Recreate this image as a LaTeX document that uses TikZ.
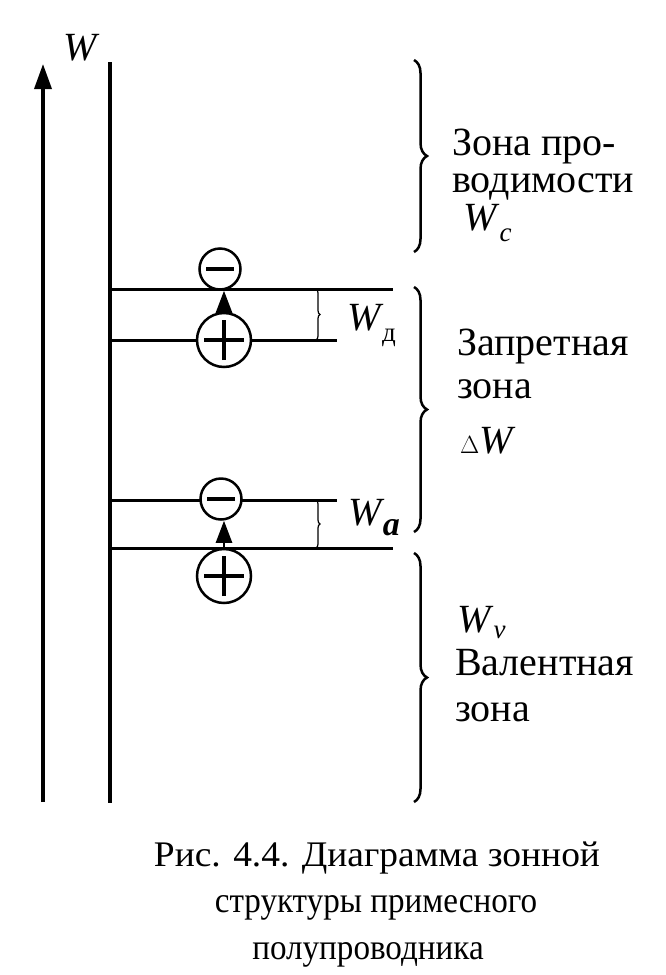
\documentclass[tikz,border=0pt]{standalone}
\usepackage{fontspec}
\setmainfont{Liberation Serif}
\usetikzlibrary{decorations.pathreplacing,arrows.meta}
\newcommand{\subsc}[2][0.28em]{\raisebox{-#1}{\fontsize{27}{27}\selectfont\textit{#2}}}
\begin{document}
\begin{tikzpicture}[x=1pt,y=-1pt,
  lvl/.style={line width=3pt},
  bigbrace/.style={decorate,decoration={brace,amplitude=13pt},line width=2.5pt},
  smallbrace/.style={decorate,decoration={brace,amplitude=4pt},line width=1.2pt},
  lbl/.style={anchor=base west,inner sep=0pt,font=\fontsize{40}{40}\selectfont},
  captext/.style={anchor=base,inner sep=0pt,font=\fontsize{36}{36}\selectfont},
  minuscirc/.style={circle,draw,line width=2.5pt,minimum size=41pt,inner sep=0pt,
    path picture={\draw[line width=4pt] ([xshift=-14pt]path picture bounding box.center) -- ([xshift=14pt]path picture bounding box.center);}},
  pluscirc/.style={circle,draw,line width=2.5pt,minimum size=54pt,inner sep=0pt,
    path picture={\draw[line width=4pt] ([xshift=-20pt]path picture bounding box.center) -- ([xshift=20pt]path picture bounding box.center);
                  \draw[line width=4pt] ([yshift=-20pt]path picture bounding box.center) -- ([yshift=20pt]path picture bounding box.center);}},
  jump/.style={line width=2.5pt,-{Triangle[length=22pt,width=16pt]}}
]
\useasboundingbox (0,0) rectangle (665,975);
% energy axis
\coordinate (axb) at (43,802);
\coordinate (axt) at (43,64);
\draw[line width=3.5pt,-{Triangle[length=25pt,width=17pt]}] (axb) -- (axt);
\node[lbl] (wlab) at (63,60) {\textit{W}};
% vertical line
\coordinate (vt) at (110,62);
\coordinate (vb) at (110,803);
\draw[line width=3.5pt] (vt) -- (vb);
% levels
\coordinate (l1a) at (110,289); \coordinate (l1b) at (393,289);
\coordinate (l2a) at (110,340); \coordinate (l2b) at (337,340);
\coordinate (l3a) at (110,500); \coordinate (l3b) at (337,500);
\coordinate (l4a) at (110,548); \coordinate (l4b) at (393,548);
\draw[lvl] (l1a) -- (l1b);
\draw[lvl] (l2a) -- (l2b);
\draw[lvl] (l3a) -- (l3b);
\draw[lvl] (l4a) -- (l4b);
% charges
\node[minuscirc,fill=white] (m1) at (220,269) {};
\node[pluscirc,fill=white] (p1) at (224,340) {};
\node[minuscirc,fill=white] (m2) at (221,499) {};
\node[pluscirc,fill=white] (p2) at (224,576) {};
\draw[jump] (p1.north) -- (p1.north |- m1.south);
\draw[jump] (p2.north) -- (p2.north |- m2.south);
% small braces
\coordinate (sb1t) at (316,289); \coordinate (sb1b) at (316,340);
\coordinate (sb2t) at (316,500); \coordinate (sb2b) at (316,548);
\draw[smallbrace] (sb1t) -- (sb1b);
\draw[smallbrace] (sb2t) -- (sb2b);
\node[lbl] (wd) at (347,330) {\textit{W}\subsc{\kern-0.05em\upshape д}};
\node[lbl] (wa) at (348,525) {\textit{W}\raisebox{-0.25em}{\fontsize{34}{34}\selectfont\kern-0.05em\bfseries\itshape а}};
% big braces
\coordinate (b1t) at (414,60);  \coordinate (b1b) at (414,252);
\coordinate (b2t) at (414,287); \coordinate (b2b) at (414,532);
\coordinate (b3t) at (414,553); \coordinate (b3b) at (414,802);
\draw[bigbrace] (b1t) -- (b1b);
\draw[bigbrace] (b2t) -- (b2b);
\draw[bigbrace] (b3t) -- (b3b);
% zone labels
\node[lbl] (t1) at (452,155) {Зона про-};
\node[lbl] (t2) at (452,192) {водимости};
\node[lbl] (t3) at (463,230) {\textit{W}\subsc{c}};
\node[lbl] (t4) at (457,355) {Запретная};
\node[lbl] (t5) at (457,398) {зона};
\node[lbl] (t6) at (460,453) {$\Delta$\textit{W}};
\node[lbl] (t7) at (457,632) {\textit{W}\subsc[0.15em]{v}};
\node[lbl] (t8) at (455,675) {Валентная};
\node[lbl] (t9) at (455,721) {зона};
% caption
\node[captext] (c1) at (377,866) {\scalebox{1.04}[1]{Рис. 4.4. Диаграмма зонной}};
\node[captext] (c2) at (376,912) {\scalebox{0.92}[1]{структуры примесного}};
\node[captext] (c3) at (368,959) {\scalebox{0.92}[1]{полупроводника}};
\end{tikzpicture}
\end{document}
